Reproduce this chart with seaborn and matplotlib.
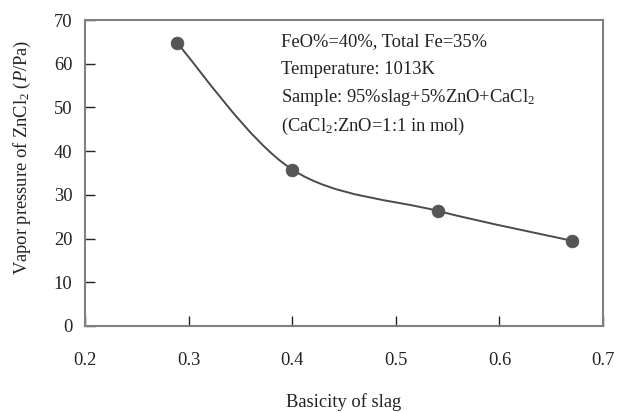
import numpy as np
import pandas as pd
import matplotlib
matplotlib.use("Agg")
import matplotlib.pyplot as plt
from matplotlib.path import Path
from matplotlib.patches import PathPatch
import seaborn as sns

# ---- data ----
basicity = [0.289, 0.400, 0.541, 0.670]
pressure = [64.7, 35.8, 26.3, 19.5]
x_ticks = [0.2, 0.3, 0.4, 0.5, 0.6, 0.7]
y_ticks = [0, 10, 20, 30, 40, 50, 60, 70]
notes = [
    "FeO%=40%, Total Fe=35%",
    "Temperature: 1013K",
    r"Sample: 95%slag+5%ZnO+CaCl$_2$",
    r"(CaCl$_2$:ZnO=1:1 in mol)",
]
x_label = "Basicity of slag"
y_label = r"Vapor pressure of ZnCl$_2$ ($P$/Pa)"

sns.set_style("white")
plt.rcParams["font.family"] = ["Liberation Serif", "DejaVu Serif"]
plt.rcParams["mathtext.fontset"] = "custom"
plt.rcParams["mathtext.rm"] = "Liberation Serif"
plt.rcParams["mathtext.it"] = "Liberation Serif:italic"
plt.rcParams["mathtext.bf"] = "Liberation Serif:bold"

FS = 13.3
TXT = "#222222"

df = pd.DataFrame({"basicity": basicity, "pressure": pressure})

fig = plt.figure(figsize=(6.25, 4.12), dpi=100)
ax = fig.add_axes([85 / 625, 1 - 326 / 412, (603 - 85) / 625, (326 - 20) / 412])

# smoothed line (Bezier through the data points, Excel-style)
pts = np.column_stack([basicity, pressure])
n = len(pts)
verts = [tuple(pts[0])]
codes = [Path.MOVETO]
for i in range(n - 1):
    p0 = pts[i - 1] if i > 0 else pts[i]
    p1 = pts[i]
    p2 = pts[i + 1]
    p3 = pts[i + 2] if i + 2 < n else pts[i + 1]
    c1 = p1 + (p2 - p0) / 6.0
    c2 = p2 - (p3 - p1) / 6.0
    verts += [tuple(c1), tuple(c2), tuple(p2)]
    codes += [Path.CURVE4] * 3
ax.add_patch(PathPatch(Path(verts, codes), facecolor="none",
                       edgecolor="#4a4a4a", lw=1.4, zorder=2))

sns.scatterplot(data=df, x="basicity", y="pressure", ax=ax, s=85,
                color="#555555", edgecolor="#555555", linewidth=0.5,
                zorder=3, legend=False)

ax.set_xlim(0.2, 0.7)
ax.set_ylim(0, 70)
ax.set_xticks(x_ticks)
ax.set_yticks(y_ticks)
ax.set_xticklabels([f"{v:.1f}" for v in x_ticks])
ax.set_yticklabels([str(v) for v in y_ticks])
ax.tick_params(axis="both", direction="in", length=7, width=1.0,
               color="#222222", labelsize=FS, labelcolor=TXT)
ax.tick_params(axis="x", pad=19)
ax.tick_params(axis="y", pad=9)
ax.tick_params(top=False, right=False, bottom=True, left=True)

for s in ax.spines.values():
    s.set_visible(True)
    s.set_color("#808080")
    s.set_linewidth(1.5)

ax.set_xlabel(x_label, fontsize=FS, color=TXT, va="center")
ax.xaxis.set_label_coords(0.5, (326 - 402) / 306)
ax.set_ylabel(y_label, fontsize=FS, color=TXT, va="center")
ax.yaxis.set_label_coords((22 - 85) / 518, (326 - 157) / 306)

for i, t in enumerate(notes):
    ax.text(281 / 625, 1 - (42 + 28 * i) / 412, t, transform=fig.transFigure,
            fontsize=FS, color=TXT, ha="left", va="center")

fig.savefig("out.png", dpi=100)
